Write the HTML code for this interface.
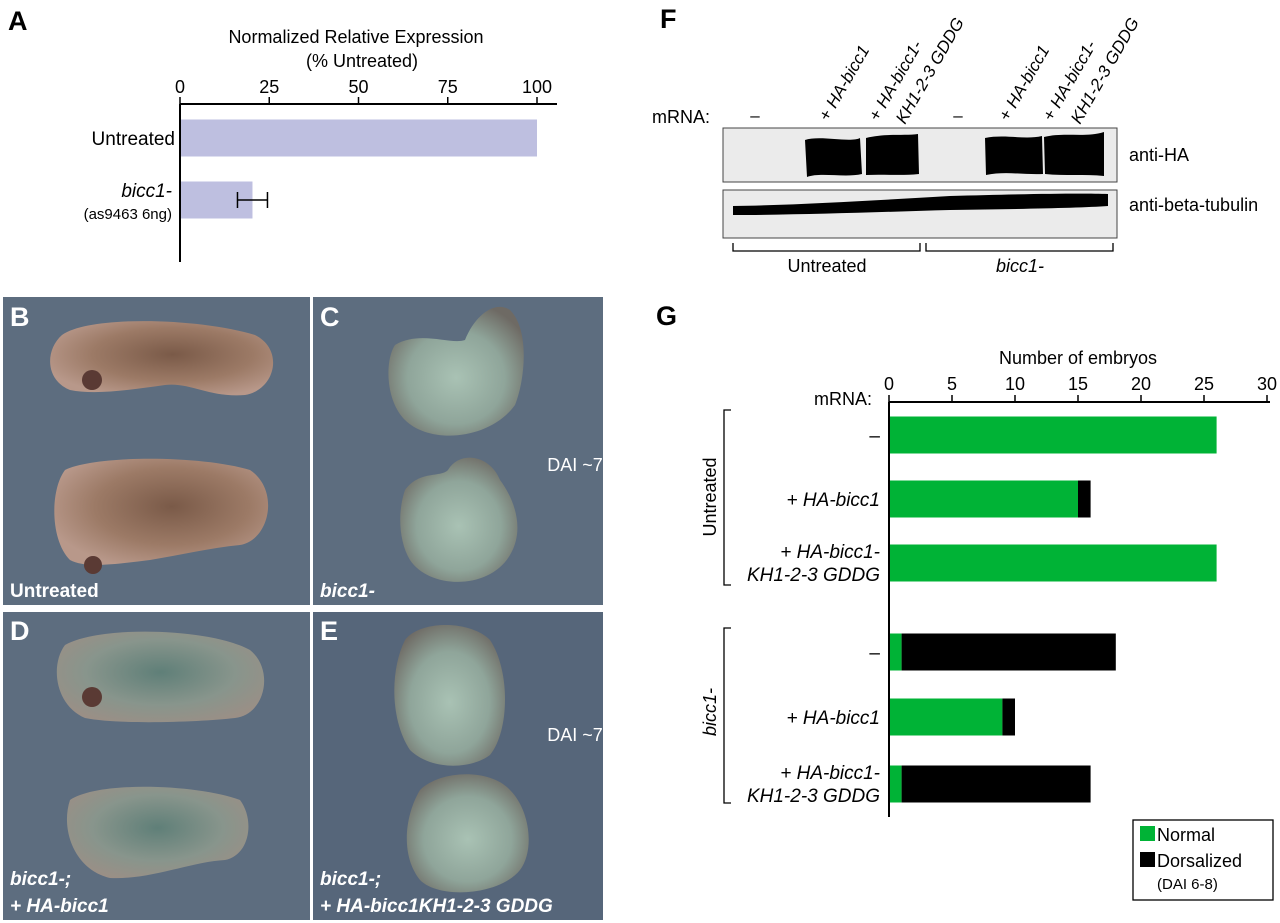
<!DOCTYPE html>
<html><head><meta charset="utf-8"><style>
body{margin:0;background:#fff}
svg{display:block;font-family:"Liberation Sans",Arial,sans-serif}
</style></head><body>
<svg width="1280" height="923" viewBox="0 0 1280 923">
<defs>
<radialGradient id="brown" cx="55%" cy="45%" r="60%"><stop offset="0" stop-color="#7a5a48"/><stop offset="0.6" stop-color="#9c7a66"/><stop offset="1" stop-color="#b8988a"/></radialGradient>
<radialGradient id="green" cx="50%" cy="55%" r="60%"><stop offset="0" stop-color="#a9c2b4"/><stop offset="0.6" stop-color="#8fa59a"/><stop offset="1" stop-color="#6e6a64"/></radialGradient>
<radialGradient id="mixed" cx="50%" cy="45%" r="60%"><stop offset="0" stop-color="#5f7f78"/><stop offset="0.6" stop-color="#88958c"/><stop offset="1" stop-color="#9a8f86"/></radialGradient>
</defs>

<!-- Panel A -->
<g>
<text x="8" y="30" font-size="27" font-weight="bold">A</text>
<text x="356" y="43" font-size="18" text-anchor="middle">Normalized Relative Expression</text>
<text x="362" y="67" font-size="18" text-anchor="middle">(% Untreated)</text>
<g id="aChart"></g>
</g>

<!-- Panel F -->
<g>
<text x="660" y="28" font-size="27" font-weight="bold">F</text>
<text x="652" y="123" font-size="18">mRNA:</text>
<g font-size="17" font-style="italic">
<text x="755" y="121" text-anchor="middle" font-style="normal">–</text>
<text transform="translate(828,122) rotate(-60)"><tspan font-style="normal">+ </tspan>HA-bicc1</text>
<text transform="translate(878,122) rotate(-60)"><tspan font-style="normal">+ </tspan>HA-bicc1-</text>
<text transform="translate(905,125) rotate(-60)">KH1-2-3 GDDG</text>
<text x="958" y="121" text-anchor="middle" font-style="normal">–</text>
<text transform="translate(1008,122) rotate(-60)"><tspan font-style="normal">+ </tspan>HA-bicc1</text>
<text transform="translate(1052,122) rotate(-60)"><tspan font-style="normal">+ </tspan>HA-bicc1-</text>
<text transform="translate(1080,125) rotate(-60)">KH1-2-3 GDDG</text>
</g>
<rect x="723" y="128" width="394" height="54" fill="#ebebeb" stroke="#444"/>
<path d="M805,140 C820,135 850,143 860,138 L862,174 C845,178 820,172 807,177 Z" fill="#000"/>
<path d="M866,138 C885,133 905,136 918,134 L919,174 C900,176 885,174 866,175 Z" fill="#000"/>
<path d="M985,138 C1005,134 1025,140 1042,136 L1043,174 C1025,175 1005,171 986,175 Z" fill="#000"/>
<path d="M1044,137 C1065,132 1085,138 1104,132 L1104,176 C1085,174 1065,176 1045,174 Z" fill="#000"/>
<text x="1129" y="161" font-size="18">anti-HA</text>
<rect x="723" y="190" width="394" height="48" fill="#ebebeb" stroke="#444"/>
<path d="M733,206 C800,205 880,200 950,196 C1020,194 1080,193 1108,194 L1108,206 C1080,208 1020,209 950,210 C880,212 800,215 733,215 Z" fill="#000"/>
<text x="1129" y="211" font-size="18">anti-beta-tubulin</text>
<path d="M733,243 V251 H920 V243 M926,243 V251 H1113 V243" fill="none" stroke="#000" stroke-width="1.3"/>
<text x="827" y="272" font-size="18" text-anchor="middle">Untreated</text>
<text x="1020" y="272" font-size="18" text-anchor="middle" font-style="italic">bicc1-</text>
</g>

<!-- Photo panels -->
<g>
<rect x="3" y="297" width="307" height="308" fill="#5d6d7f"/>
<path d="M62,335 C90,315 200,318 255,335 C285,350 275,390 245,395 C210,398 190,382 165,385 C130,390 95,395 70,390 C45,380 45,350 62,335 Z" fill="url(#brown)"/>
<circle cx="92" cy="380" r="10" fill="#5a3a34"/>
<path d="M65,470 C95,455 200,455 250,470 C280,490 270,540 240,545 C210,548 180,555 150,560 C110,565 85,568 70,560 C50,540 50,490 65,470 Z" fill="url(#brown)"/>
<circle cx="93" cy="565" r="9" fill="#5a3a34"/>
<text x="10" y="597" font-size="19" font-weight="bold" fill="#fff">Untreated</text>
<text x="10" y="326" font-size="27" font-weight="bold" fill="#fff">B</text>
</g>
<g>
<rect x="313" y="297" width="290" height="308" fill="#5d6d7f"/>
<path d="M395,345 C420,330 450,345 465,340 C475,315 495,300 510,310 C530,330 525,380 515,405 C490,440 430,445 405,420 C385,400 385,360 395,345 Z" fill="url(#green)"/>
<path d="M405,490 C420,470 440,478 448,470 C460,450 490,455 500,480 C515,500 525,530 510,555 C490,590 430,590 410,560 C398,540 398,510 405,490 Z" fill="url(#green)"/>
<text x="575" y="471" font-size="18" fill="#fff" text-anchor="middle">DAI ~7</text>
<text x="320" y="597" font-size="19" font-weight="bold" font-style="italic" fill="#fff">bicc1-</text>
<text x="320" y="326" font-size="27" font-weight="bold" fill="#fff">C</text>
</g>
<g>
<rect x="3" y="612" width="307" height="308" fill="#5d6d7f"/>
<path d="M65,645 C100,625 210,628 250,650 C275,670 265,715 235,718 C200,722 120,725 85,718 C55,705 50,665 65,645 Z" fill="url(#mixed)"/>
<circle cx="92" cy="697" r="10" fill="#5a3a34"/>
<path d="M70,800 C100,780 200,785 240,800 C255,820 250,855 225,860 C190,862 150,880 110,878 C75,870 60,830 70,800 Z" fill="url(#mixed)"/>
<text x="10" y="885" font-size="19" font-weight="bold" font-style="italic" fill="#fff">bicc1-;</text>
<text x="10" y="912" font-size="19" font-weight="bold" font-style="italic" fill="#fff">+ HA-bicc1</text>
<text x="10" y="640" font-size="27" font-weight="bold" fill="#fff">D</text>
</g>
<g>
<rect x="313" y="612" width="290" height="308" fill="#56667a"/>
<path d="M405,640 C420,620 470,620 490,640 C510,670 510,730 490,755 C470,770 430,770 410,750 C390,720 390,670 405,640 Z" fill="url(#green)"/>
<path d="M420,790 C440,770 490,768 510,790 C530,810 535,850 520,870 C500,895 440,900 420,880 C400,855 405,815 420,790 Z" fill="url(#green)"/>
<text x="575" y="741" font-size="18" fill="#fff" text-anchor="middle">DAI ~7</text>
<text x="320" y="885" font-size="19" font-weight="bold" font-style="italic" fill="#fff">bicc1-;</text>
<text x="320" y="912" font-size="19" font-weight="bold" font-style="italic" fill="#fff">+ HA-bicc1KH1-2-3 GDDG</text>
<text x="320" y="640" font-size="27" font-weight="bold" fill="#fff">E</text>
</g>

<!-- Panel G -->
<g>
<text x="656" y="325" font-size="27" font-weight="bold">G</text>
<text x="1078" y="364" font-size="18" text-anchor="middle">Number of embryos</text>
<text x="872" y="405" font-size="18" text-anchor="end">mRNA:</text>
<path d="M731,410 H724 V585 H731" fill="none" stroke="#000" stroke-width="1.3"/>
<text transform="translate(716,497) rotate(-90)" font-size="18" text-anchor="middle">Untreated</text>
<path d="M731,628 H724 V803 H731" fill="none" stroke="#000" stroke-width="1.3"/>
<text transform="translate(716,712) rotate(-90)" font-size="18" text-anchor="middle" font-style="italic">bicc1-</text>
<g id="gChart"></g>
<rect x="1133" y="820" width="140" height="80" fill="#fff" stroke="#000" stroke-width="1.3"/>
<rect x="1140" y="826" width="15" height="15" fill="#00b336"/>
<text x="1157" y="841" font-size="18">Normal</text>
<rect x="1140" y="852" width="15" height="15" fill="#000"/>
<text x="1157" y="867" font-size="18">Dorsalized</text>
<text x="1157" y="889" font-size="15">(DAI 6-8)</text>
</g>
</svg>
<script>
const NS='http://www.w3.org/2000/svg';
// Panel A data
const aCategories=['Untreated','bicc1-'];
const aValues=[100,20.3];
const aErrors=[0,4.2];
const aTicks=[0,25,50,75,100];
// Panel G data
const gCategories=['–','+ HA-bicc1','+ HA-bicc1- KH1-2-3 GDDG','–','+ HA-bicc1','+ HA-bicc1- KH1-2-3 GDDG'];
const gNormal=[26,15,26,1,9,1];
const gDorsalized=[0,1,0,17,1,15];
const gTicks=[0,5,10,15,20,25,30];

function mk(parent,tag,attrs,text){const e=document.createElementNS(NS,tag);for(const k in attrs)e.setAttribute(k,attrs[k]);if(text!=null)e.textContent=text;parent.appendChild(e);return e;}

// Panel A
(function(){
 const g=document.getElementById('aChart');
 const x=v=>180+v*(537-180)/100;
 const yc=[138,200];
 let ax=mk(g,'path',{d:'M180,104 H557 M180,104 V262',stroke:'#000','stroke-width':2,fill:'none'});
 
 
 aTicks.forEach(t=>{
  let l=mk(g,'line',{x1:x(t),x2:x(t),y1:104,y2:97,stroke:'#000','stroke-width':1.5});
  
  
  let tx=mk(g,'text',{x:x(t),y:93,'font-size':18,'text-anchor':'middle'},String(t));
  
  
 });
 aValues.forEach((v,i)=>{
  let r=mk(g,'rect',{x:181,y:yc[i]-18.5,width:x(v)-181,height:37,fill:'#bebfe0'});
  
  
  if(aErrors[i]>0){
   let e=mk(g,'path',{d:`M${x(v-aErrors[i])},${yc[i]} H${x(v+aErrors[i])} M${x(v-aErrors[i])},${yc[i]-8} v16 M${x(v+aErrors[i])},${yc[i]-8} v16`,stroke:'#000','stroke-width':1.5,fill:'none'});
   
   
  }
 });
 let l1=mk(g,'text',{x:175,y:145,'font-size':19,'text-anchor':'end'},aCategories[0]);
 
 
 let l2=mk(g,'text',{x:172,y:197,'font-size':19,'text-anchor':'end','font-style':'italic'},aCategories[1]);
 
 
 let l3=mk(g,'text',{x:172,y:219,'font-size':15,'text-anchor':'end'},'(as9463 6ng)');
 
 
})();

// Panel G
(function(){
 const g=document.getElementById('gChart');
 const x=v=>889+v*(1267-889)/30;
 const yc=[435,499,563,652,717,784];
 let ax=mk(g,'path',{d:'M889,402 H1270 M889,402 V817',stroke:'#000','stroke-width':2,fill:'none'});
 
 
 gTicks.forEach(t=>{
  let l=mk(g,'line',{x1:x(t),x2:x(t),y1:402,y2:395,stroke:'#000','stroke-width':1.5});
  
  
  let tx=mk(g,'text',{x:x(t),y:390,'font-size':18,'text-anchor':'middle'},String(t));
  
  
 });
 gCategories.forEach((c,i)=>{
  let n=mk(g,'rect',{x:x(0)+1,y:yc[i]-18.5,width:x(gNormal[i])-x(0)-1,height:37,fill:'#00b336'});
  
  
  if(gDorsalized[i]>0){
   let d=mk(g,'rect',{x:x(gNormal[i]),y:yc[i]-18.5,width:x(gNormal[i]+gDorsalized[i])-x(gNormal[i]),height:37,fill:'#000'});
   
   
  }
  const parts=c.split(' KH');
  if(parts.length>1){
   let t1=mk(g,'text',{x:880,y:yc[i]-5,'font-size':19,'text-anchor':'end','font-style':'italic'},parts[0]);
   
   
   let t2=mk(g,'text',{x:880,y:yc[i]+18,'font-size':19,'text-anchor':'end','font-style':'italic'},'KH'+parts[1]);
   
   
  } else {
   let t=mk(g,'text',{x:880,y:yc[i]+7,'font-size':19,'text-anchor':'end','font-style':c==='–'?'normal':'italic'},c);
   
   
  }
 });
})();
</script>
</body></html>
